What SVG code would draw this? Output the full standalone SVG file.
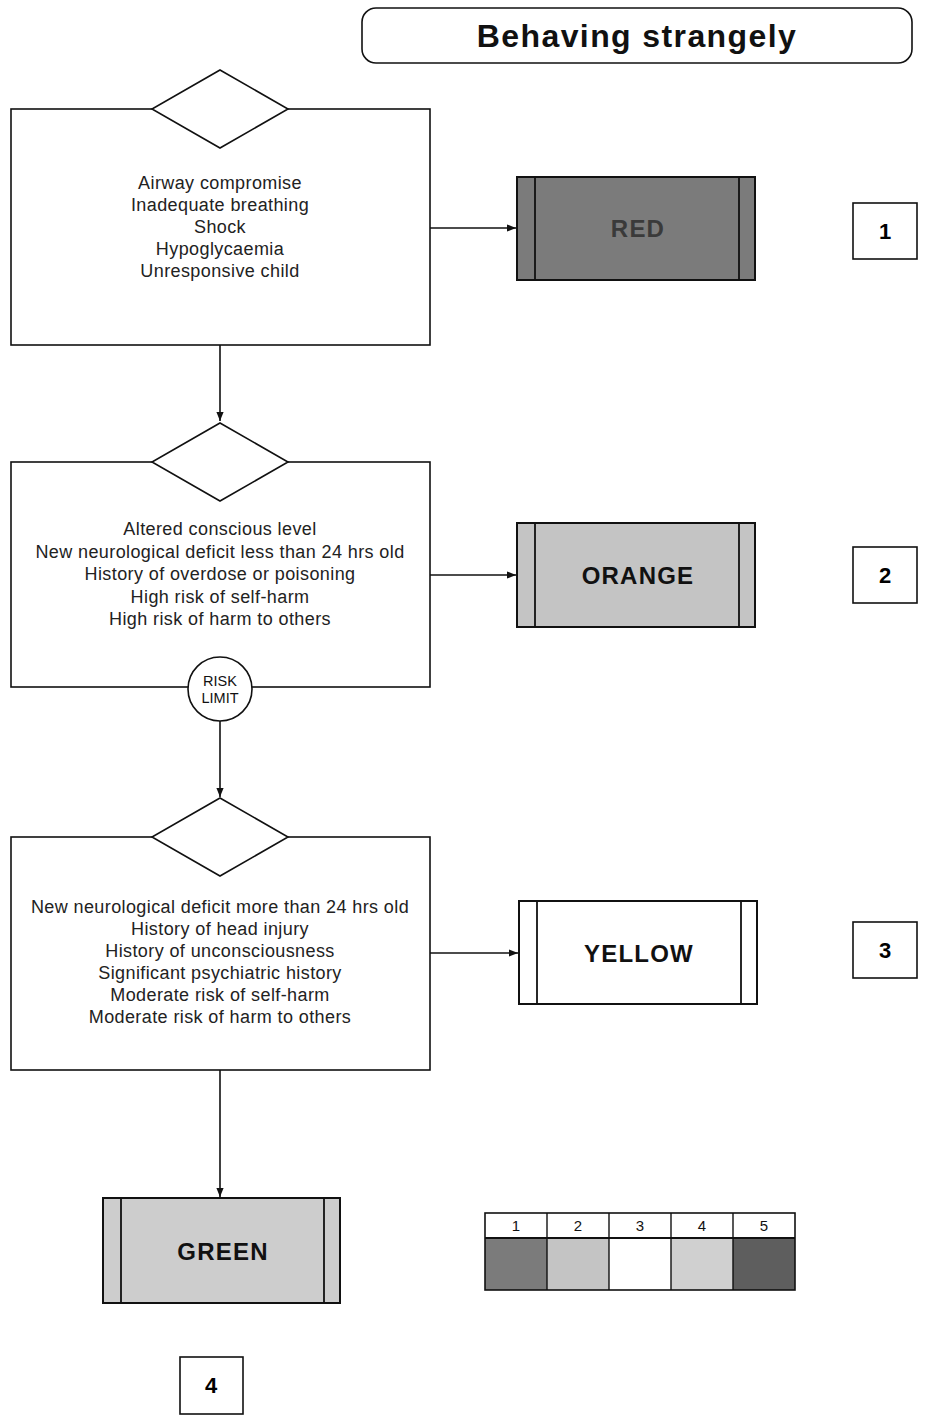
<svg xmlns="http://www.w3.org/2000/svg" width="925" height="1422" viewBox="0 0 925 1422">
<defs>
<style>
.box{fill:#fff;stroke:#111;stroke-width:1.6}
.t{font-family:"Liberation Sans",Arial,sans-serif;font-size:18px;letter-spacing:0.4px;fill:#222;text-anchor:middle}
.lbl{font-family:"Liberation Sans",Arial,sans-serif;font-size:24px;letter-spacing:1.2px;font-weight:bold;fill:#111;text-anchor:middle}
.num{font-family:"Liberation Sans",Arial,sans-serif;font-size:22px;font-weight:bold;fill:#000;text-anchor:middle}
.conn{stroke:#111;stroke-width:1.6;fill:none}
.cat{stroke:#111;stroke-width:2}
.inner{stroke:#111;stroke-width:1.8}
.leg{font-family:"Liberation Sans",Arial,sans-serif;font-size:15px;fill:#111;text-anchor:middle}
</style>
<marker id="arr" viewBox="0 0 10 10" refX="10" refY="5" markerWidth="9" markerHeight="9" orient="auto" markerUnits="userSpaceOnUse">
<path d="M0,1 L10,5 L0,9 Z" fill="#111"/>
</marker>
</defs>
<rect width="925" height="1422" fill="#fff"/>

<g id="title">
<rect x="362" y="8" width="550" height="55" rx="14" ry="14" fill="#fff" stroke="#111" stroke-width="1.6"/>
<text x="637" y="47" font-family="Liberation Sans,Arial,sans-serif" font-size="32" letter-spacing="1.4" font-weight="bold" text-anchor="middle" fill="#111">Behaving strangely</text>
</g>

<g id="connectors">
<line class="conn" x1="430" y1="228" x2="516" y2="228" marker-end="url(#arr)"/>
<line class="conn" x1="220" y1="345" x2="220" y2="421" marker-end="url(#arr)"/>
<line class="conn" x1="430" y1="575" x2="516" y2="575" marker-end="url(#arr)"/>
<line class="conn" x1="220" y1="721" x2="220" y2="797" marker-end="url(#arr)"/>
<line class="conn" x1="430" y1="953" x2="518" y2="953" marker-end="url(#arr)"/>
<line class="conn" x1="220" y1="1070" x2="220" y2="1197" marker-end="url(#arr)"/>
</g>

<g id="step1">
<rect class="box" x="11" y="109" width="419" height="236"/>
<polygon class="box" points="220,70 288,109 220,148 152,109"/>
<text class="t" x="220" y="189">Airway compromise</text>
<text class="t" x="220" y="211">Inadequate breathing</text>
<text class="t" x="220" y="233">Shock</text>
<text class="t" x="220" y="255">Hypoglycaemia</text>
<text class="t" x="220" y="277">Unresponsive child</text>
</g>

<g id="step2">
<rect class="box" x="11" y="462" width="419" height="225"/>
<polygon class="box" points="220,423 288,462 220,501 152,462"/>
<text class="t" x="220" y="535">Altered conscious level</text>
<text class="t" x="220" y="558">New neurological deficit less than 24 hrs old</text>
<text class="t" x="220" y="580">History of overdose or poisoning</text>
<text class="t" x="220" y="603">High risk of self-harm</text>
<text class="t" x="220" y="625">High risk of harm to others</text>
</g>

<g id="risk-limit">
<circle cx="220" cy="689" r="32" fill="#fff" stroke="#111" stroke-width="1.6"/>
<text x="220" y="686" font-family="Liberation Sans,Arial,sans-serif" font-size="14.5" text-anchor="middle" fill="#111">RISK</text>
<text x="220" y="703" font-family="Liberation Sans,Arial,sans-serif" font-size="14.5" text-anchor="middle" fill="#111">LIMIT</text>
</g>

<g id="step3">
<rect class="box" x="11" y="837" width="419" height="233"/>
<polygon class="box" points="220,798 288,837 220,876 152,837"/>
<text class="t" x="220" y="913">New neurological deficit more than 24 hrs old</text>
<text class="t" x="220" y="935">History of head injury</text>
<text class="t" x="220" y="957">History of unconsciousness</text>
<text class="t" x="220" y="979">Significant psychiatric history</text>
<text class="t" x="220" y="1001">Moderate risk of self-harm</text>
<text class="t" x="220" y="1023">Moderate risk of harm to others</text>
</g>

<g id="red">
<rect class="cat" x="517" y="177" width="238" height="103" fill="#7b7b7b"/>
<line class="inner" x1="535" y1="177" x2="535" y2="280"/>
<line class="inner" x1="739" y1="177" x2="739" y2="280"/>
<text class="lbl" x="638" y="237" style="fill:#3a3a3a">RED</text>
</g>

<g id="orange">
<rect class="cat" x="517" y="523" width="238" height="104" fill="#c4c4c4"/>
<line class="inner" x1="535" y1="523" x2="535" y2="627"/>
<line class="inner" x1="739" y1="523" x2="739" y2="627"/>
<text class="lbl" x="638" y="584">ORANGE</text>
</g>

<g id="yellow">
<rect class="cat" x="519" y="901" width="238" height="103" fill="#fff"/>
<line class="inner" x1="537" y1="901" x2="537" y2="1004"/>
<line class="inner" x1="741" y1="901" x2="741" y2="1004"/>
<text class="lbl" x="639" y="962">YELLOW</text>
</g>

<g id="green">
<rect class="cat" x="103" y="1198" width="237" height="105" fill="#cdcdcd"/>
<line class="inner" x1="121" y1="1198" x2="121" y2="1303"/>
<line class="inner" x1="324" y1="1198" x2="324" y2="1303"/>
<text class="lbl" x="223" y="1260">GREEN</text>
</g>

<g id="num1"><rect class="box" x="853" y="203" width="64" height="56"/><text class="num" x="885" y="239">1</text></g>
<g id="num2"><rect class="box" x="853" y="547" width="64" height="56"/><text class="num" x="885" y="583">2</text></g>
<g id="num3"><rect class="box" x="853" y="922" width="64" height="56"/><text class="num" x="885" y="958">3</text></g>
<g id="num4"><rect class="box" x="180" y="1357" width="63" height="57"/><text class="num" x="211" y="1393">4</text></g>

<g id="legend">
<rect x="485" y="1238" width="62" height="52" fill="#7b7b7b"/>
<rect x="547" y="1238" width="62" height="52" fill="#c4c4c4"/>
<rect x="609" y="1238" width="62" height="52" fill="#fff"/>
<rect x="671" y="1238" width="62" height="52" fill="#d0d0d0"/>
<rect x="733" y="1238" width="62" height="52" fill="#5e5e5e"/>
<rect x="485" y="1213" width="310" height="77" fill="none" stroke="#111" stroke-width="1.6"/>
<line x1="485" y1="1238" x2="795" y2="1238" stroke="#111" stroke-width="1.8"/>
<line x1="547" y1="1213" x2="547" y2="1290" stroke="#111" stroke-width="1.4"/>
<line x1="609" y1="1213" x2="609" y2="1290" stroke="#111" stroke-width="1.4"/>
<line x1="671" y1="1213" x2="671" y2="1290" stroke="#111" stroke-width="1.4"/>
<line x1="733" y1="1213" x2="733" y2="1290" stroke="#111" stroke-width="1.4"/>
<text class="leg" x="516" y="1231">1</text>
<text class="leg" x="578" y="1231">2</text>
<text class="leg" x="640" y="1231">3</text>
<text class="leg" x="702" y="1231">4</text>
<text class="leg" x="764" y="1231">5</text>
</g>
</svg>
